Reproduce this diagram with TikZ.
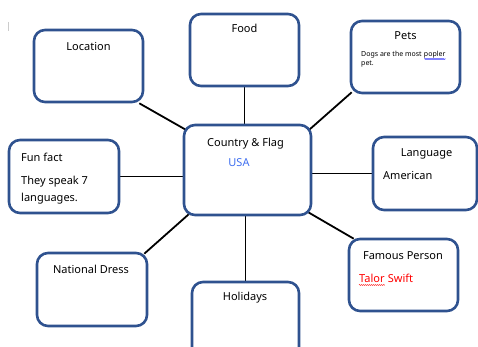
\documentclass[tikz,border=0pt]{standalone}
\usepackage{fontspec}
\setmainfont{Noto Sans}
\usetikzlibrary{calc,backgrounds,decorations.pathmorphing}
\definecolor{boxblue}{HTML}{2F528F}
\definecolor{usablue}{HTML}{3F6FF0}
\begin{document}
\begin{tikzpicture}[x=1pt,y=-1pt,
  box/.style={draw=boxblue,line width=2.6pt,rounded corners=11pt,fill=white,inner sep=0pt,minimum width=109pt,minimum height=72pt},
  link/.style={draw=black,line width=1.8pt},
  lbl/.style={inner sep=0pt,anchor=base,font=\fontsize{11}{13}\selectfont},
  lblw/.style={lbl,anchor=base west},
  small/.style={inner sep=0pt,anchor=base west,font=\fontsize{7}{8}\selectfont},
  wavy/.style={line width=0.5pt,decorate,decoration={snake,amplitude=0.5pt,segment length=2pt}}
]
\useasboundingbox (0,0) rectangle (478,347);
\clip (0,0) rectangle (478,347);
% boxes
\node[box] (loc) at (88.5,66) {};
\node[box] (food) at (244.5,50) {};
\node[box] (pets) at (405.5,57) {};
\node[box,minimum width=127pt,minimum height=90pt] (ctr) at (247.5,170) {};
\node[box,minimum width=104pt,minimum height=73pt] (lang) at (425,173.5) {};
\node[box,minimum width=110pt,minimum height=73pt] (fun) at (64,176.5) {};
\node[box,minimum width=110pt,minimum height=73pt] (nat) at (92,289.5) {};
\node[box,minimum width=107pt,minimum height=78pt] (hol) at (245.5,321) {};
\node[box] (fam) at (403.5,275) {};
% connectors
\begin{scope}[on background layer]
\draw[link] ($(loc.south east)+(-5,0)$) -- ($(ctr.north west)+(3,6)$);
\draw[link] (food.south) -- (food.south |- ctr.north);
\draw[link] ($(pets.south west)+(2,-2)$) -- ($(ctr.north east)+(-3,6)$);
\draw[link] (lang.west) -- (lang.west -| ctr.east);
\draw[link] (fun.east) -- (fun.east -| ctr.west);
\draw[link] ($(nat.north east)+(-4,2)$) -- ($(ctr.south west)+(6,-2)$);
\draw[link] (hol.north) -- (hol.north |- ctr.south);
\draw[link] ($(ctr.south east)+(-4,-4)$) -- ($(fam.north west)+(6,1)$);
\end{scope}
% texts
\node[lbl] (locT) at (88.5,51) {Location};
\node[lbl] (foodT) at (244.5,33) {Food};
\node[lbl] (petsT) at (405.5,40) {Pets};
\node[small] (petsA) at (361,57) {Dogs are the most};
\node[small] (petsB) at (petsA.base east) {\ popler};
\node[small] (petsC) at (361,66) {pet.};
\draw[wavy,draw=blue] ($(petsB.base west)+(2.5,2)$) -- ($(petsB.base east)+(0,2)$);
\node[lbl] (ctrT) at (245.5,147) {Country \& Flag};
\node[lbl,text=usablue] (usaT) at (239,167) {USA};
\node[lbl] (langT) at (426.5,157) {Language};
\node[lblw] (amT) at (383,179) {American};
\node[lblw] (funT) at (21,162) {Fun fact};
\node[lblw] (funA) at (21,184) {They speak 7};
\node[lblw] (funB) at (21,201) {languages.};
\node[lbl] (natT) at (91,273) {National Dress};
\node[lbl] (holT) at (245,300) {Holidays};
\node[lbl] (famT) at (403,259) {Famous Person};
\node[lblw,text=red] (talT) at (359,282) {Talor};
\node[lblw,text=red] (swT) at (talT.base east) {\ Swift};
\draw[wavy,draw=red] ($(talT.base west)+(0,3)$) -- ($(talT.base east)+(0,3)$);
\draw[gray!40,line width=1pt] (8,22) -- (8,31);
\end{tikzpicture}
\end{document}
